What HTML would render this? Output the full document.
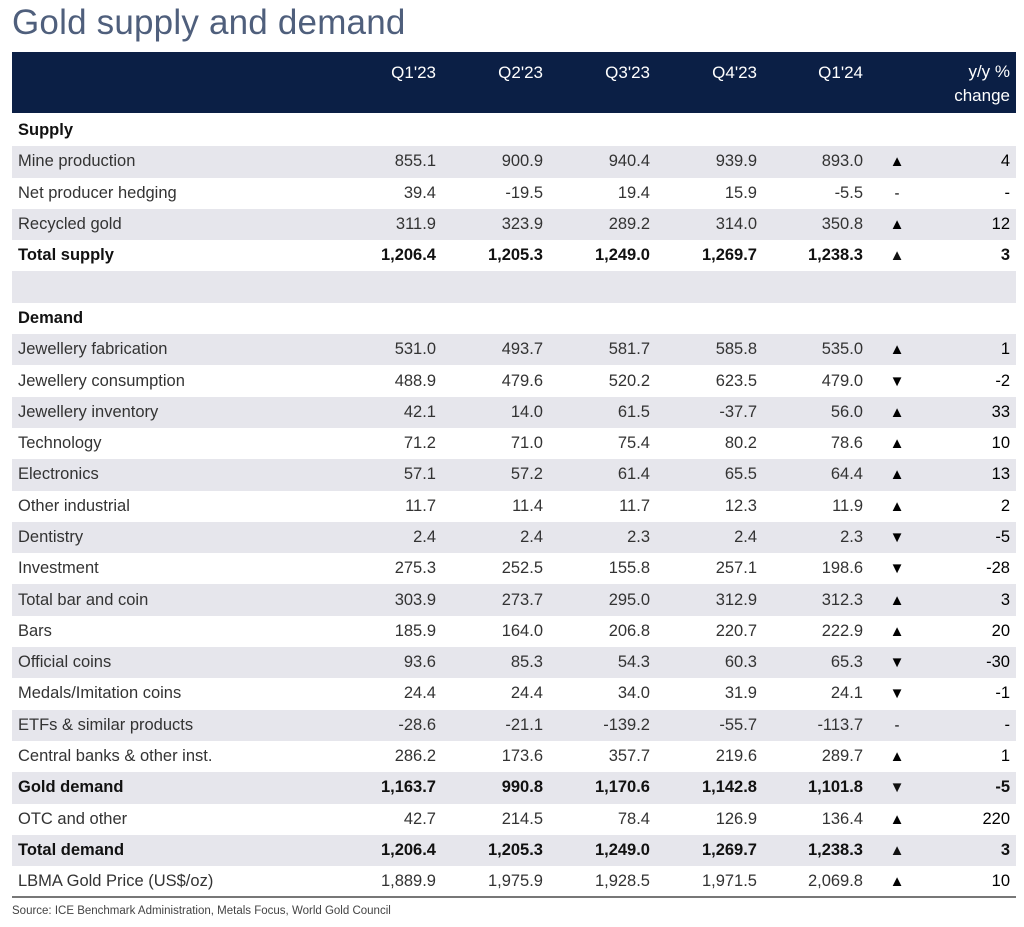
<!DOCTYPE html>
<html><head><meta charset="utf-8"><style>
body{margin:0;width:1024px;height:927px;background:#fff;font-family:"Liberation Sans",sans-serif;position:relative;overflow:hidden}
.title{position:absolute;left:12px;top:3px;font-size:35px;color:#4f5f7c;letter-spacing:0.2px}
.hdr{position:absolute;left:12px;top:52px;width:1004px;height:61px;background:#0b1f45;color:#fff;font-size:17px}
.hdr span{position:absolute;top:11px;text-align:right}
table{position:absolute;left:12px;top:115px;width:1004px;border-collapse:collapse;font-size:16.5px;color:#333;table-layout:fixed}
td{height:31.3px;padding:0;white-space:nowrap}
tr:nth-child(even) td{background:#e6e6ec}
td.l{padding-left:6px}
td.n{text-align:right;padding-right:6px}
td.a{text-align:center;font-size:15px;color:#000}
td.y{text-align:right;padding-right:6px;color:#000}
tr.b td{font-weight:bold;color:#111}
.line{position:absolute;left:12px;top:896px;width:1004px;height:2px;background:#777}
.src{position:absolute;left:12px;top:905px;font-size:11.5px;color:#444}
</style></head><body>
<div class="title">Gold supply and demand</div>
<div class="hdr">
<span style="right:580px">Q1'23</span>
<span style="right:473px">Q2'23</span>
<span style="right:366px">Q3'23</span>
<span style="right:259px">Q4'23</span>
<span style="right:153px">Q1'24</span>
<span style="right:6px;line-height:24px;top:8px">y/y %<br>change</span>
</div>
<table>
<colgroup><col style="width:340px"><col style="width:90px"><col style="width:107px"><col style="width:107px"><col style="width:107px"><col style="width:106px"><col style="width:56px"><col></colgroup>
<tr class="b"><td class="l">Supply</td><td class="n"></td><td class="n"></td><td class="n"></td><td class="n"></td><td class="n"></td><td class="a"></td><td class="y"></td></tr>
<tr><td class="l">Mine production</td><td class="n">855.1</td><td class="n">900.9</td><td class="n">940.4</td><td class="n">939.9</td><td class="n">893.0</td><td class="a">▲</td><td class="y">4</td></tr>
<tr><td class="l">Net producer hedging</td><td class="n">39.4</td><td class="n">-19.5</td><td class="n">19.4</td><td class="n">15.9</td><td class="n">-5.5</td><td class="a">-</td><td class="y">-</td></tr>
<tr><td class="l">Recycled gold</td><td class="n">311.9</td><td class="n">323.9</td><td class="n">289.2</td><td class="n">314.0</td><td class="n">350.8</td><td class="a">▲</td><td class="y">12</td></tr>
<tr class="b"><td class="l">Total supply</td><td class="n">1,206.4</td><td class="n">1,205.3</td><td class="n">1,249.0</td><td class="n">1,269.7</td><td class="n">1,238.3</td><td class="a">▲</td><td class="y">3</td></tr>
<tr><td class="l"></td><td class="n"></td><td class="n"></td><td class="n"></td><td class="n"></td><td class="n"></td><td class="a"></td><td class="y"></td></tr>
<tr class="b"><td class="l">Demand</td><td class="n"></td><td class="n"></td><td class="n"></td><td class="n"></td><td class="n"></td><td class="a"></td><td class="y"></td></tr>
<tr><td class="l">Jewellery fabrication</td><td class="n">531.0</td><td class="n">493.7</td><td class="n">581.7</td><td class="n">585.8</td><td class="n">535.0</td><td class="a">▲</td><td class="y">1</td></tr>
<tr><td class="l">Jewellery consumption</td><td class="n">488.9</td><td class="n">479.6</td><td class="n">520.2</td><td class="n">623.5</td><td class="n">479.0</td><td class="a">▼</td><td class="y">-2</td></tr>
<tr><td class="l">Jewellery inventory</td><td class="n">42.1</td><td class="n">14.0</td><td class="n">61.5</td><td class="n">-37.7</td><td class="n">56.0</td><td class="a">▲</td><td class="y">33</td></tr>
<tr><td class="l">Technology</td><td class="n">71.2</td><td class="n">71.0</td><td class="n">75.4</td><td class="n">80.2</td><td class="n">78.6</td><td class="a">▲</td><td class="y">10</td></tr>
<tr><td class="l">Electronics</td><td class="n">57.1</td><td class="n">57.2</td><td class="n">61.4</td><td class="n">65.5</td><td class="n">64.4</td><td class="a">▲</td><td class="y">13</td></tr>
<tr><td class="l">Other industrial</td><td class="n">11.7</td><td class="n">11.4</td><td class="n">11.7</td><td class="n">12.3</td><td class="n">11.9</td><td class="a">▲</td><td class="y">2</td></tr>
<tr><td class="l">Dentistry</td><td class="n">2.4</td><td class="n">2.4</td><td class="n">2.3</td><td class="n">2.4</td><td class="n">2.3</td><td class="a">▼</td><td class="y">-5</td></tr>
<tr><td class="l">Investment</td><td class="n">275.3</td><td class="n">252.5</td><td class="n">155.8</td><td class="n">257.1</td><td class="n">198.6</td><td class="a">▼</td><td class="y">-28</td></tr>
<tr><td class="l">Total bar and coin</td><td class="n">303.9</td><td class="n">273.7</td><td class="n">295.0</td><td class="n">312.9</td><td class="n">312.3</td><td class="a">▲</td><td class="y">3</td></tr>
<tr><td class="l">Bars</td><td class="n">185.9</td><td class="n">164.0</td><td class="n">206.8</td><td class="n">220.7</td><td class="n">222.9</td><td class="a">▲</td><td class="y">20</td></tr>
<tr><td class="l">Official coins</td><td class="n">93.6</td><td class="n">85.3</td><td class="n">54.3</td><td class="n">60.3</td><td class="n">65.3</td><td class="a">▼</td><td class="y">-30</td></tr>
<tr><td class="l">Medals/Imitation coins</td><td class="n">24.4</td><td class="n">24.4</td><td class="n">34.0</td><td class="n">31.9</td><td class="n">24.1</td><td class="a">▼</td><td class="y">-1</td></tr>
<tr><td class="l">ETFs &amp; similar products</td><td class="n">-28.6</td><td class="n">-21.1</td><td class="n">-139.2</td><td class="n">-55.7</td><td class="n">-113.7</td><td class="a">-</td><td class="y">-</td></tr>
<tr><td class="l">Central banks &amp; other inst.</td><td class="n">286.2</td><td class="n">173.6</td><td class="n">357.7</td><td class="n">219.6</td><td class="n">289.7</td><td class="a">▲</td><td class="y">1</td></tr>
<tr class="b"><td class="l">Gold demand</td><td class="n">1,163.7</td><td class="n">990.8</td><td class="n">1,170.6</td><td class="n">1,142.8</td><td class="n">1,101.8</td><td class="a">▼</td><td class="y">-5</td></tr>
<tr><td class="l">OTC and other</td><td class="n">42.7</td><td class="n">214.5</td><td class="n">78.4</td><td class="n">126.9</td><td class="n">136.4</td><td class="a">▲</td><td class="y">220</td></tr>
<tr class="b"><td class="l">Total demand</td><td class="n">1,206.4</td><td class="n">1,205.3</td><td class="n">1,249.0</td><td class="n">1,269.7</td><td class="n">1,238.3</td><td class="a">▲</td><td class="y">3</td></tr>
<tr><td class="l">LBMA Gold Price (US$/oz)</td><td class="n">1,889.9</td><td class="n">1,975.9</td><td class="n">1,928.5</td><td class="n">1,971.5</td><td class="n">2,069.8</td><td class="a">▲</td><td class="y">10</td></tr>
</table>
<div class="line"></div>
<div class="src">Source: ICE Benchmark Administration, Metals Focus, World Gold Council</div>
</body></html>
